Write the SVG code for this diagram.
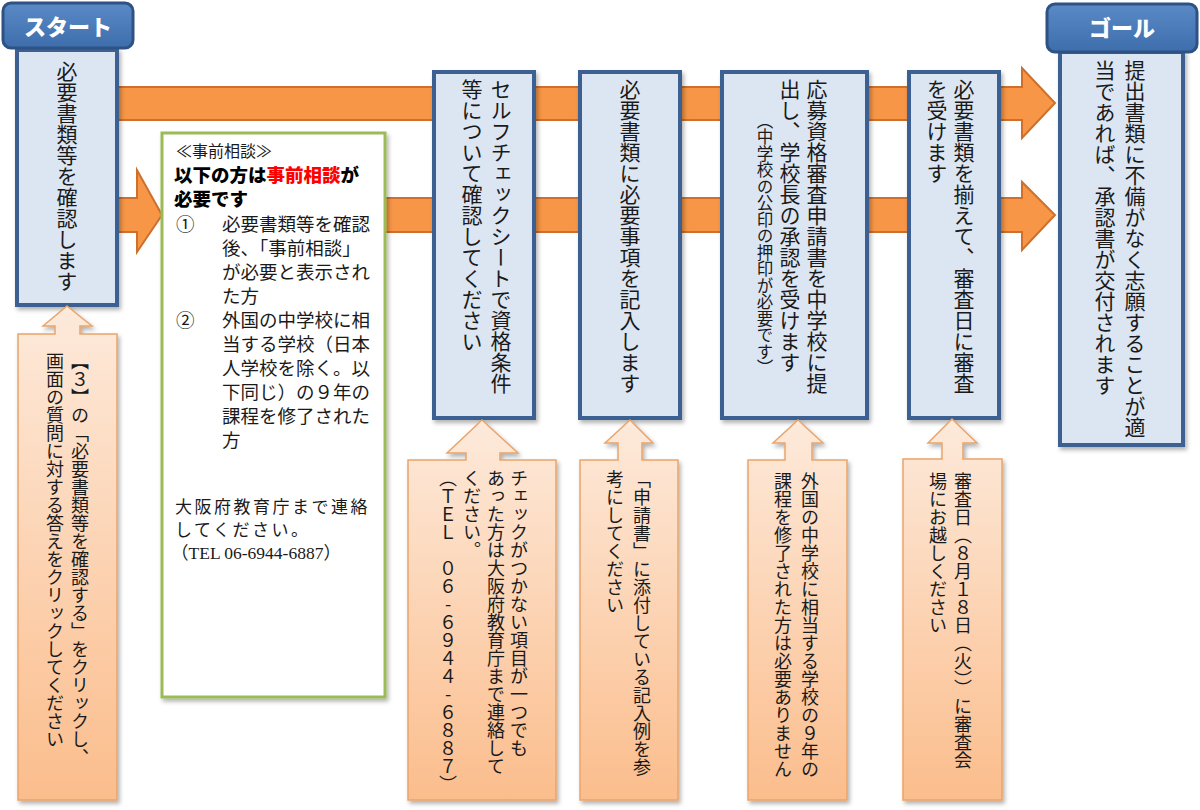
<svg xmlns="http://www.w3.org/2000/svg" width="1200" height="810" viewBox="0 0 1200 810">
<style>
.jp{font-family:"Noto Sans CJK JP","Noto Sans CJK SC",sans-serif;}
.v{writing-mode:vertical-rl;}
.box{fill:#dce6f2;stroke:#3b6191;stroke-width:4;}
.hdr{fill:url(#gHdr);stroke:#2e5283;stroke-width:3;}
.hdrt{fill:#fff;font-weight:900;font-size:22px;text-anchor:middle;}
.bt{font-size:21px;fill:#1a1a1a;}
.ct{font-size:18px;fill:#1a1a1a;}
.co{fill:url(#gCo);stroke:#eaa46a;stroke-width:1.5;}
.band{fill:#f79646;stroke:#cf6f2c;stroke-width:2;}
.gt{font-size:18.5px;fill:#1a1a1a;}
</style>
<defs>
<linearGradient id="gHdr" x1="0" y1="0" x2="0" y2="1">
<stop offset="0" stop-color="#5a8ac6"/>
<stop offset="1" stop-color="#3d6dab"/>
</linearGradient>
<linearGradient id="gCo" x1="0" y1="0" x2="0" y2="1">
<stop offset="0" stop-color="#fdeadb"/>
<stop offset="1" stop-color="#fbbd8c"/>
</linearGradient>
<filter id="sh" x="-10%" y="-10%" width="130%" height="130%">
<feDropShadow dx="2" dy="3" stdDeviation="2" flood-color="#000" flood-opacity="0.3"/>
</filter>
</defs>
<rect width="1200" height="810" fill="#fff"/>

<g id="connectors">
<path class="band" d="M110,87 H1022 V68 L1055,103 L1022,138 V120 H110 Z"/>
<path class="band" d="M110,198 H137 V170 L162,215 L137,252 V232 H110 Z"/>
<path class="band" d="M380,198 H1022 V182 L1055,215 L1022,250 V232 H380 Z"/>
</g>

<g id="start">
<rect class="box" x="17" y="50" width="100" height="255" filter="url(#sh)"/>
<rect class="hdr" x="3" y="3" width="130" height="45" rx="8"/>
<text class="jp hdrt" x="68" y="35">スタート</text>
<text class="jp v bt" x="67" y="61">必要書類等を確認します</text>
</g>

<g id="consult">
<rect x="162" y="133" width="223" height="564" fill="#fff" stroke="#9bbb59" stroke-width="3" filter="url(#sh)"/>
<text class="jp" x="176" y="157" font-size="16" fill="#1a1a1a">≪事前相談≫</text>
<text class="jp" x="174" y="182" font-size="18.5" font-weight="900" fill="#000">以下の方は<tspan fill="#ff0000">事前相談</tspan>が</text>
<text class="jp" x="174" y="206" font-size="18.5" font-weight="900" fill="#000">必要です</text>
<text class="jp gt" x="176" y="231">①</text>
<text class="jp gt" x="222" y="231">必要書類等を確認</text>
<text class="jp gt" x="222" y="255">後、「事前相談」</text>
<text class="jp gt" x="222" y="279">が必要と表示され</text>
<text class="jp gt" x="222" y="303">た方</text>
<text class="jp gt" x="176" y="327">②</text>
<text class="jp gt" x="222" y="327">外国の中学校に相</text>
<text class="jp gt" x="222" y="351">当する学校（日本</text>
<text class="jp gt" x="222" y="375">人学校を除く。以</text>
<text class="jp gt" x="222" y="399">下同じ）の９年の</text>
<text class="jp gt" x="222" y="423">課程を修了された</text>
<text class="jp gt" x="222" y="447">方</text>
<text class="jp" x="175" y="513" font-size="17" letter-spacing="2.5" fill="#1a1a1a">大阪府教育庁まで連絡</text>
<text class="jp" x="175" y="536" font-size="17" letter-spacing="2.5" fill="#1a1a1a">してください。</text>
<text x="171" y="559" font-size="17.5" fill="#1a1a1a" font-family="'Liberation Serif','Noto Sans CJK JP',serif">（TEL 06-6944-6887）</text>
</g>

<g id="step-selfcheck">
<rect class="box" x="434" y="72" width="100" height="346" filter="url(#sh)"/>
<text class="jp v bt" x="501" y="79">セルフチェックシートで資格条件</text>
<text class="jp v bt" x="472" y="79">等について確認してください</text>
</g>

<g id="step-fill">
<rect class="box" x="580" y="72" width="100" height="346" filter="url(#sh)"/>
<text class="jp v bt" x="630" y="79">必要書類に必要事項を記入します</text>
</g>

<g id="step-apply">
<rect class="box" x="722" y="72" width="145" height="346" filter="url(#sh)"/>
<text class="jp v bt" x="817" y="79">応募資格審査申請書を中学校に提</text>
<text class="jp v bt" x="790" y="79">出し、学校長の承認を受けます</text>
<text class="jp v" x="765" y="112" font-size="16.5" fill="#1a1a1a">（中学校の公印の押印が必要です）</text>
</g>

<g id="step-exam">
<rect class="box" x="909" y="72" width="90" height="346" filter="url(#sh)"/>
<text class="jp v bt" x="964" y="79">必要書類を揃えて、審査日に審査</text>
<text class="jp v bt" x="937" y="79">を受けます</text>
</g>

<g id="goal">
<rect class="box" x="1060" y="52" width="123" height="393" filter="url(#sh)"/>
<rect class="hdr" x="1047" y="4" width="150" height="48" rx="8"/>
<text class="jp hdrt" x="1122" y="36">ゴール</text>
<text class="jp v bt" x="1135" y="60">提出書類に不備がなく志願することが適</text>
<text class="jp v bt" x="1105" y="60">当であれば、承認書が交付されます</text>
</g>

<g id="note-start">
<path class="co" d="M67,306 L92,326 H80 V334 H117 V800 H18 V334 H55 V326 H43 Z" filter="url(#sh)"/>
<text class="jp v ct" x="80" y="352">【３】の「必要書類等を確認する」をクリックし、</text>
<text class="jp v ct" x="55" y="352">画面の質問に対する答えをクリックしてください</text>
</g>

<g id="note-selfcheck">
<path class="co" d="M482,420 L518,453 H500 V460 H556 V800 H408 V460 H466 V453 H447 Z" filter="url(#sh)"/>
<text class="jp v ct" x="519" y="469">チェックがつかない項目が一つでも</text>
<text class="jp v ct" x="496" y="469">あった方は大阪府教育庁まで連絡して</text>
<text class="jp v ct" x="472" y="469">ください。</text>
<text class="jp v ct" x="448" y="469" style="text-orientation:upright">（ＴＥＬ　０６-６９４４-６８８７）</text>
</g>

<g id="note-fill">
<path class="co" d="M630,420 L653,443 H642 V460 H678 V800 H580 V460 H618 V443 H605 Z" filter="url(#sh)"/>
<text class="jp v ct" x="642" y="470">「申請書」に添付している記入例を参</text>
<text class="jp v ct" x="615" y="470">考にしてください</text>
</g>

<g id="note-apply">
<path class="co" d="M798,420 L823,443 H812 V460 H847 V800 H748 V460 H785 V443 H773 Z" filter="url(#sh)"/>
<text class="jp v ct" x="810" y="472">外国の中学校に相当する学校の９年の</text>
<text class="jp v ct" x="783" y="472">課程を修了された方は必要ありません</text>
</g>

<g id="note-exam">
<path class="co" d="M952,419 L977,443 H963 V459 H1002 V800 H903 V459 H942 V443 H928 Z" filter="url(#sh)"/>
<text class="jp v ct" x="963" y="472">審査日（８月１８日（火））に審査会</text>
<text class="jp v ct" x="938" y="472">場にお越しください</text>
</g>
</svg>
